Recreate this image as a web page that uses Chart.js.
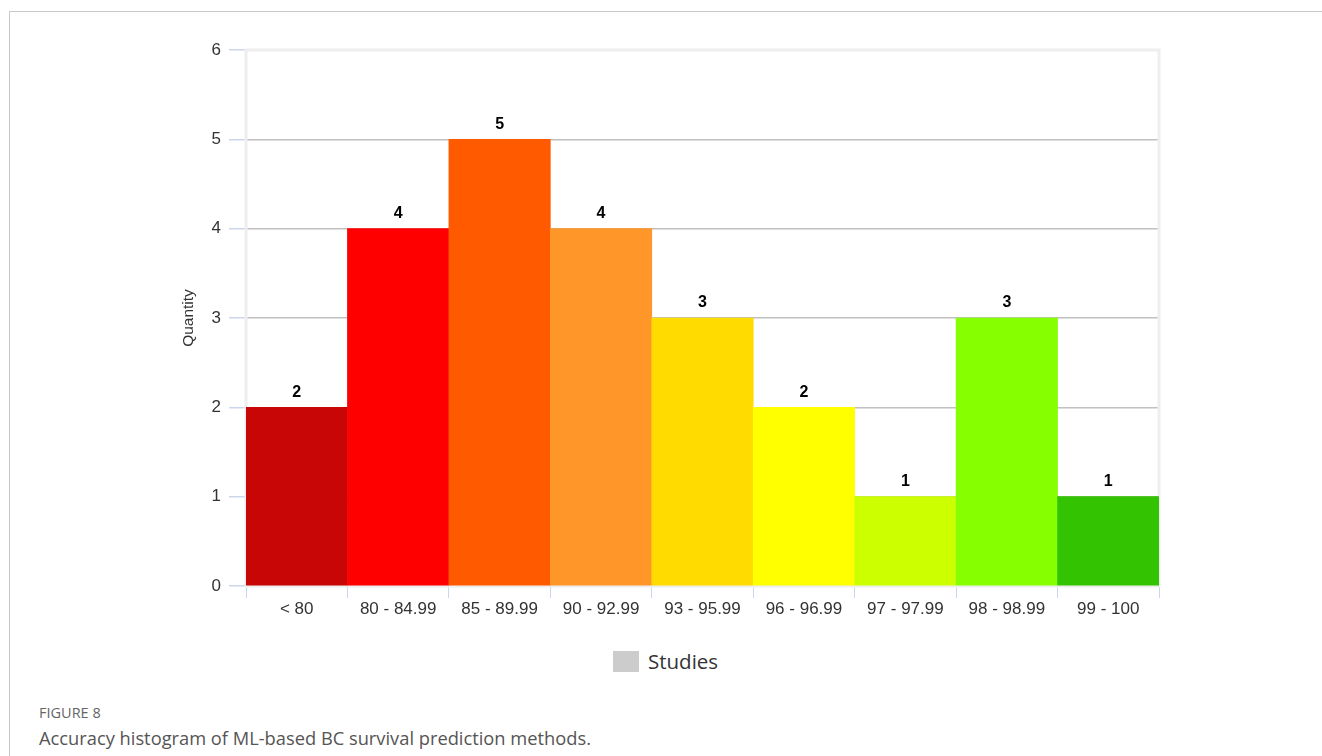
<!DOCTYPE html>
<html>
<head>
<meta charset="utf-8">
<script src="https://cdn.jsdelivr.net/npm/chart.js@4.4.1/dist/chart.umd.min.js"></script>
<style>
  html, body { margin: 0; padding: 0; background: #fff; }
  body { width: 1322px; height: 756px; position: relative; overflow: hidden; }
  .frame-top { position: absolute; left: 9px; top: 11px; right: 0; height: 1px; background: #c8c8c8; }
  .frame-left { position: absolute; left: 9px; top: 11px; bottom: 0; width: 1px; background: #c8c8c8; }
  #wrap { position: absolute; left: 0; top: 0; width: 1322px; height: 620px; }
  .legend { position: absolute; top: 647px; left: 613px; display: flex; align-items: center;
            font-family: "Open Sans", sans-serif; font-size: 20.5px; color: #333; }
  .legend .box { width: 26px; height: 21px; background: #cccccc; margin-right: 9px; }
  .caption { position: absolute; left: 39px; top: 703px; font-family: "Open Sans", sans-serif; color: #555; }
  .caption .fig { font-size: 14.5px; color: #666; }
  .caption .text { font-size: 18.3px; margin-top: 3px; }
</style>
</head>
<body>
<div class="frame-top"></div>
<div class="frame-left"></div>
<div id="wrap"><canvas id="histChart"></canvas></div>
<div class="legend"><span class="box"></span><span>Studies</span></div>
<div class="caption">
  <div class="fig">FIGURE 8</div>
  <div class="text">Accuracy histogram of ML-based BC survival prediction methods.</div>
</div>
<script>
// accuracy bins and number of studies in each
const bins = ['< 80', '80 - 84.99', '85 - 89.99', '90 - 92.99', '93 - 95.99', '96 - 96.99', '97 - 97.99', '98 - 98.99', '99 - 100'];
const studies = [2, 4, 5, 4, 3, 2, 1, 3, 1];
const binColors = ['#c90606', '#ff0000', '#ff5a00', '#ff962a', '#ffdb00', '#ffff00', '#ccff00', '#86ff00', '#33c300'];
const yTicks = [0, 1, 2, 3, 4, 5, 6];

const axisFont = '"Liberation Sans", Arial, sans-serif';

// light frame around the plot area
const plotBorder = {
  id: 'plotBorder',
  beforeDatasetsDraw(chart) {
    const { ctx, chartArea: a } = chart;
    ctx.save();
    ctx.strokeStyle = '#eeeeee';
    ctx.lineWidth = 3;
    ctx.strokeRect(a.left, a.top, a.right - a.left, a.bottom - a.top);
    ctx.restore();
  }
};

// value above each bar
const barValues = {
  id: 'barValues',
  afterDatasetsDraw(chart) {
    const { ctx } = chart;
    const meta = chart.getDatasetMeta(0);
    ctx.save();
    ctx.font = 'bold 16px ' + axisFont;
    ctx.fillStyle = '#000';
    ctx.textAlign = 'center';
    ctx.textBaseline = 'middle';
    meta.data.forEach((bar, i) => {
      ctx.fillText(String(studies[i]), bar.x, bar.y - 15);
    });
    ctx.restore();
  }
};

new Chart(document.getElementById('histChart'), {
  type: 'bar',
  data: {
    labels: bins,
    datasets: [{
      label: 'Studies',
      data: studies,
      backgroundColor: binColors,
      borderWidth: 0,
      barPercentage: 1,
      categoryPercentage: 1
    }]
  },
  options: {
    responsive: true,
    maintainAspectRatio: false,
    animation: false,
    layout: { padding: { left: 175, right: 163, top: 50, bottom: 0 } },
    plugins: {
      legend: { display: false },
      tooltip: { enabled: false }
    },
    scales: {
      x: {
        grid: { offset: true, drawOnChartArea: false, drawTicks: true, tickLength: 12, tickColor: '#ccd6eb' },
        border: { color: '#ccd6eb', width: 1 },
        ticks: { color: '#333', font: { family: axisFont, size: 17 }, padding: 1, maxRotation: 0 },
        afterFit: (s) => { s.height = 34; }
      },
      y: {
        min: 0, max: 6,
        afterBuildTicks: (s) => { s.ticks = yTicks.map(v => ({ value: v })); },
        grid: {
          color: (c) => (c.tick && (c.tick.value === 6 || c.tick.value === 0)) ? 'rgba(0,0,0,0)' : '#c0c0c0',
          lineWidth: 1.5,
          tickLength: 17,
          tickColor: '#ccd6eb'
        },
        border: { display: false },
        ticks: { color: '#333', font: { family: axisFont, size: 17 }, padding: 8 },
        title: { display: true, text: 'Quantity', color: '#333', font: { family: axisFont, size: 15.5 }, padding: 4 },
        afterFit: (s) => { s.width = 71; }
      }
    }
  },
  plugins: [plotBorder, barValues]
});
</script>
</body>
</html>
